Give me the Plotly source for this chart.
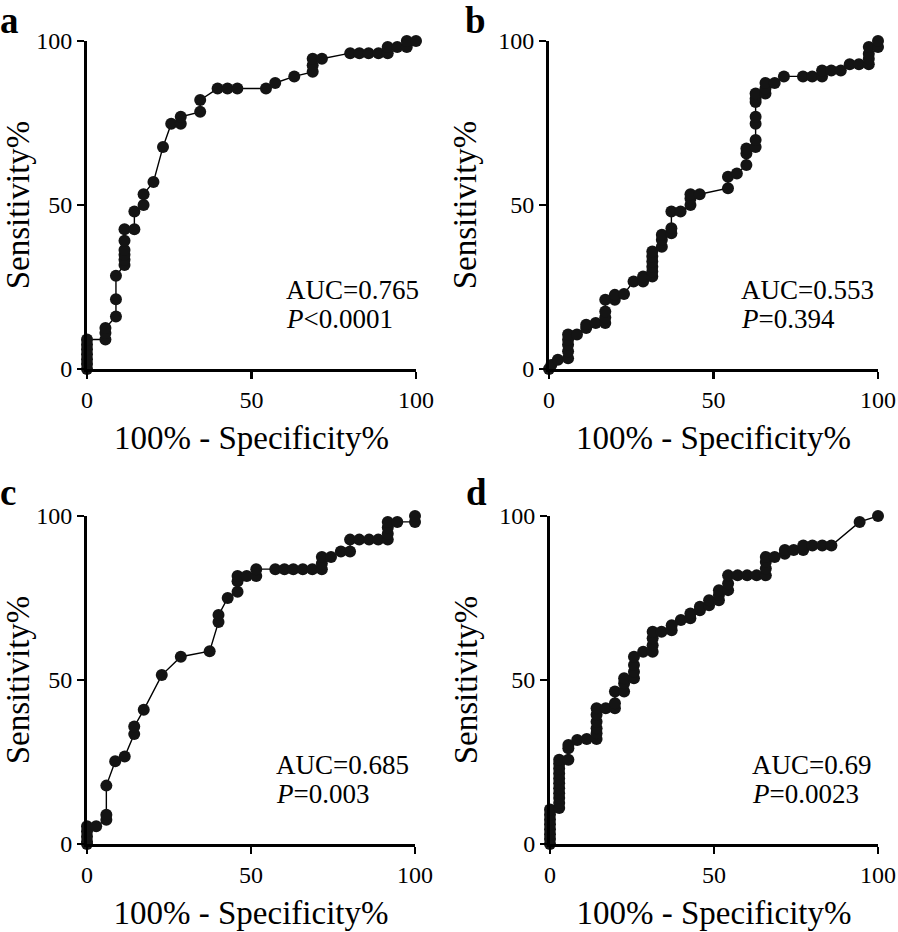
import plotly.graph_objects as go

W, H = 898, 932

# ---------------- data ----------------
panel_labels = ["a", "b", "c", "d"]
auc_texts = ["AUC=0.765", "AUC=0.553", "AUC=0.685", "AUC=0.69"]
p_texts = ["<i>P</i>&lt;0.0001", "<i>P</i>=0.394", "<i>P</i>=0.003", "<i>P</i>=0.0023"]
tick_values = [0, 50, 100]
x_title = "100% - Specificity%"
y_title = "Sensitivity%"

xa = [0, 0, 0, 0, 0, 0, 0, 5.6, 5.6, 5.6, 8.8, 8.8, 8.8, 11.4, 11.4, 11.4, 11.4, 11.4, 11.4,
      14.4, 14.4, 17.2, 17.2, 20.2, 23.1, 25.6, 28.5, 28.5, 34.4, 34.4, 39.7, 42.7, 45.7, 54.4,
      57.2, 63.0, 68.6, 68.6, 68.6, 71.4, 80.0, 82.8, 85.6, 88.6, 91.4, 91.4, 94.3, 97.2, 97.2, 100]
ya = [0, 1.5, 3, 4.5, 6, 7.5, 9, 9, 11, 12.5, 16, 21.3, 28.4, 31.7, 33.3, 34.8, 36.3, 39.1, 42.6,
      42.6, 48, 50, 53.3, 57, 67.7, 74.8, 74.8, 76.9, 78.4, 82, 85.5, 85.5, 85.5, 85.5,
      87.2, 89.2, 90.6, 92.6, 94.6, 94.6, 96.3, 96.3, 96.3, 96.3, 96.3, 98.2, 98.2, 98.2, 100, 100]

xb = [0, 0.7, 2.7, 5.8, 5.8, 5.8, 5.8, 5.8, 8.5, 11.3, 11.3, 14.2, 17.1, 17.1, 17.1, 17.1,
      20, 20, 22.8, 25.7, 28.6, 28.6, 31.4, 31.4, 31.4, 31.4, 31.4, 31.4, 34.3, 34.3, 34.3,
      37.2, 37.2, 37.2, 40, 43, 43, 43, 45.8, 54.4, 54.4, 57.1, 60, 60, 60,
      62.8, 62.8, 62.8, 62.8, 62.8, 62.8, 62.8, 65.8, 65.8, 65.8, 68.6, 71.4, 77.2, 80, 83, 83,
      85.8, 88.7, 91.4, 94.2, 97.2, 97.2, 97.2, 97.2, 100, 100]
yb = [0, 1.2, 2.8, 3.3, 5.4, 7.4, 8.9, 10.5, 10.5, 12.5, 13.5, 14, 14, 15.7, 17.5, 21.1,
      21.1, 22.6, 22.9, 26.7, 26.7, 28.2, 28.2, 29.7, 31.2, 32.8, 34.3, 35.8, 37.3, 39.4, 40.9,
      41.4, 42.9, 48, 48, 50, 52, 53.3, 53.3, 55.1, 58.6, 59.6, 62.2, 65.7, 67.2,
      67.7, 69.8, 74.8, 76.9, 81.4, 82.4, 84, 84, 85.5, 87.2, 87.2, 89.2, 89.2, 89.2, 89.2, 91,
      91, 91, 92.9, 92.9, 92.9, 94.6, 96.1, 98.2, 98.2, 100]

xc = [0, 0, 0, 0, 0, 2.8, 5.9, 5.9, 5.9, 8.6, 11.5, 14.4, 14.4, 17.3, 22.8, 28.6, 37.4,
      40.1, 40.1, 42.9, 45.9, 45.9, 45.9, 48.7, 51.6, 51.6, 57.4, 60.2, 62.9, 65.8, 68.7,
      71.6, 71.6, 71.6, 74.4, 77.4, 80.2, 80.2, 83, 86, 88.8, 91.7, 91.7, 91.7, 91.7, 94.6, 100, 100]
yc = [0, 0.8, 2.3, 3.9, 5.4, 5.4, 7.4, 8.9, 17.8, 25.2, 26.7, 33.5, 35.8, 40.9, 51.5, 57.1, 58.8,
      67.7, 69.8, 75, 76.9, 80.1, 81.7, 81.7, 81.7, 83.8, 83.8, 83.8, 83.8, 83.8, 83.8,
      83.8, 85.5, 87.5, 87.5, 89.2, 89.2, 92.8, 92.8, 92.8, 92.8, 92.8, 94.6, 96.5, 98.2, 98.2, 98.2, 100]

xd = [0, 0, 0, 0, 0, 0, 0, 0,
      2.8, 2.8, 2.8, 2.8, 2.8, 2.8, 2.8, 2.8, 2.8, 2.8, 2.8,
      5.6, 5.6, 5.6, 8.3, 11.2, 14.2, 14.2, 14.2, 14.2, 14.2, 14.2, 17,
      19.8, 19.8, 19.8, 22.6, 22.6, 22.6, 25.6, 25.6, 25.6, 25.6, 28.4,
      31.3, 31.3, 31.3, 31.3, 34, 37.1, 37.1, 39.9, 42.8, 42.8, 45.7, 45.7, 48.5, 48.5,
      51.5, 51.5, 51.5, 54.3, 54.3, 54.3, 57.2, 60.1, 63, 65.8, 65.8, 65.8, 65.8, 68.5,
      71.6, 71.6, 74.3, 77.2, 77.2, 80, 83, 85.8, 94.4, 100]
yd = [0, 1.5, 3, 4.5, 6, 7.5, 9, 10.5,
      11, 12.5, 14, 15.5, 17, 18.5, 20, 21.5, 23, 24.5, 25.7,
      25.7, 29.2, 30.2, 31.7, 32, 32, 33.8, 35.3, 37.3, 39.4, 41.4, 41.4,
      41.4, 42.9, 46.5, 46.5, 49, 50.5, 50.5, 52.5, 54.6, 57.1, 58.6,
      58.6, 60.6, 62.7, 64.7, 64.7, 65.2, 66.7, 68.3, 68.8, 70.3, 71.3, 72.3, 72.8, 74.3,
      74.3, 75.9, 77.4, 77.4, 79.4, 81.9, 81.9, 81.9, 81.9, 81.9, 84, 86, 87.5, 87.5,
      88.5, 89.6, 89.6, 89.6, 91, 91, 91, 91, 98.2, 100]

series_x = [xa, xb, xc, xd]
series_y = [ya, yb, yc, yd]

# ---------------- layout geometry (window pixels) ----------------
# (left, right, top, bottom) of each plot area
boxes = [(87, 416, 41, 369), (549, 878, 41, 369), (87, 415, 516, 844), (550, 878, 516, 844)]
letter_pos = [(-2, 21), (463, 21), (-2, 492), (464, 492)]
auc_left = [284, 739, 274, 750]


def px_x(p):
    return p / W


def px_y(p):
    return 1 - p / H


SERIF = "Liberation Serif"

fig = go.Figure()
layout = dict(
    template="none",
    width=W, height=H, margin=dict(l=0, r=0, t=0, b=0, pad=0),
    paper_bgcolor="white", plot_bgcolor="white", showlegend=False,
    font=dict(family=SERIF, color="black"),
)
annotations = []

for i in range(4):
    sfx = "" if i == 0 else str(i + 1)
    l, r, t, b = boxes[i]
    fig.add_trace(go.Scatter(
        x=series_x[i], y=series_y[i], mode="lines+markers",
        line=dict(color="black", width=1.4),
        marker=dict(size=12, color="#141414", line=dict(width=0)),
        cliponaxis=False, xaxis="x" + sfx, yaxis="y" + sfx,
    ))
    axis_common = dict(
        range=[0, 100], tickvals=tick_values, showgrid=False, zeroline=False,
        showline=True, linewidth=3, linecolor="black", ticks="outside",
        ticklen=7, tickwidth=2.5, tickcolor="black", automargin=False,
        tickfont=dict(family=SERIF, size=24, color="black"), fixedrange=True,
    )
    layout["xaxis" + sfx] = dict(
        axis_common, domain=[px_x(l), px_x(r)], anchor="y" + sfx,
        title=dict(text=x_title, font=dict(family=SERIF, size=33, color="black"), standoff=15),
    )
    layout["yaxis" + sfx] = dict(
        axis_common, domain=[px_y(b), px_y(t)], anchor="x" + sfx,
        title=dict(text=y_title, font=dict(family=SERIF, size=33, color="black"), standoff=12),
    )
    lx, ly = letter_pos[i]
    annotations.append(dict(
        text="<b>%s</b>" % panel_labels[i], x=px_x(lx), y=px_y(ly),
        xref="paper", yref="paper", xanchor="left", yanchor="middle",
        showarrow=False, font=dict(family=SERIF, size=37, color="black"),
    ))
    annotations.append(dict(
        text=auc_texts[i], x=px_x(auc_left[i]), y=px_y(b - 79),
        xref="paper", yref="paper", xanchor="left", yanchor="middle",
        showarrow=False, font=dict(family=SERIF, size=27, color="black"),
    ))
    annotations.append(dict(
        text=p_texts[i], x=px_x(auc_left[i]), y=px_y(b - 50),
        xref="paper", yref="paper", xanchor="left", yanchor="middle",
        showarrow=False, font=dict(family=SERIF, size=27, color="black"),
    ))

layout["annotations"] = annotations
fig.update_layout(**layout)
# remove the browser's default 8px body margin so the figure fills the window exactly
fig.write_html(
    "out.html",
    config={"displayModeBar": False, "staticPlot": True},
    post_script="document.body.style.margin='0';document.body.style.overflow='hidden';",
)
